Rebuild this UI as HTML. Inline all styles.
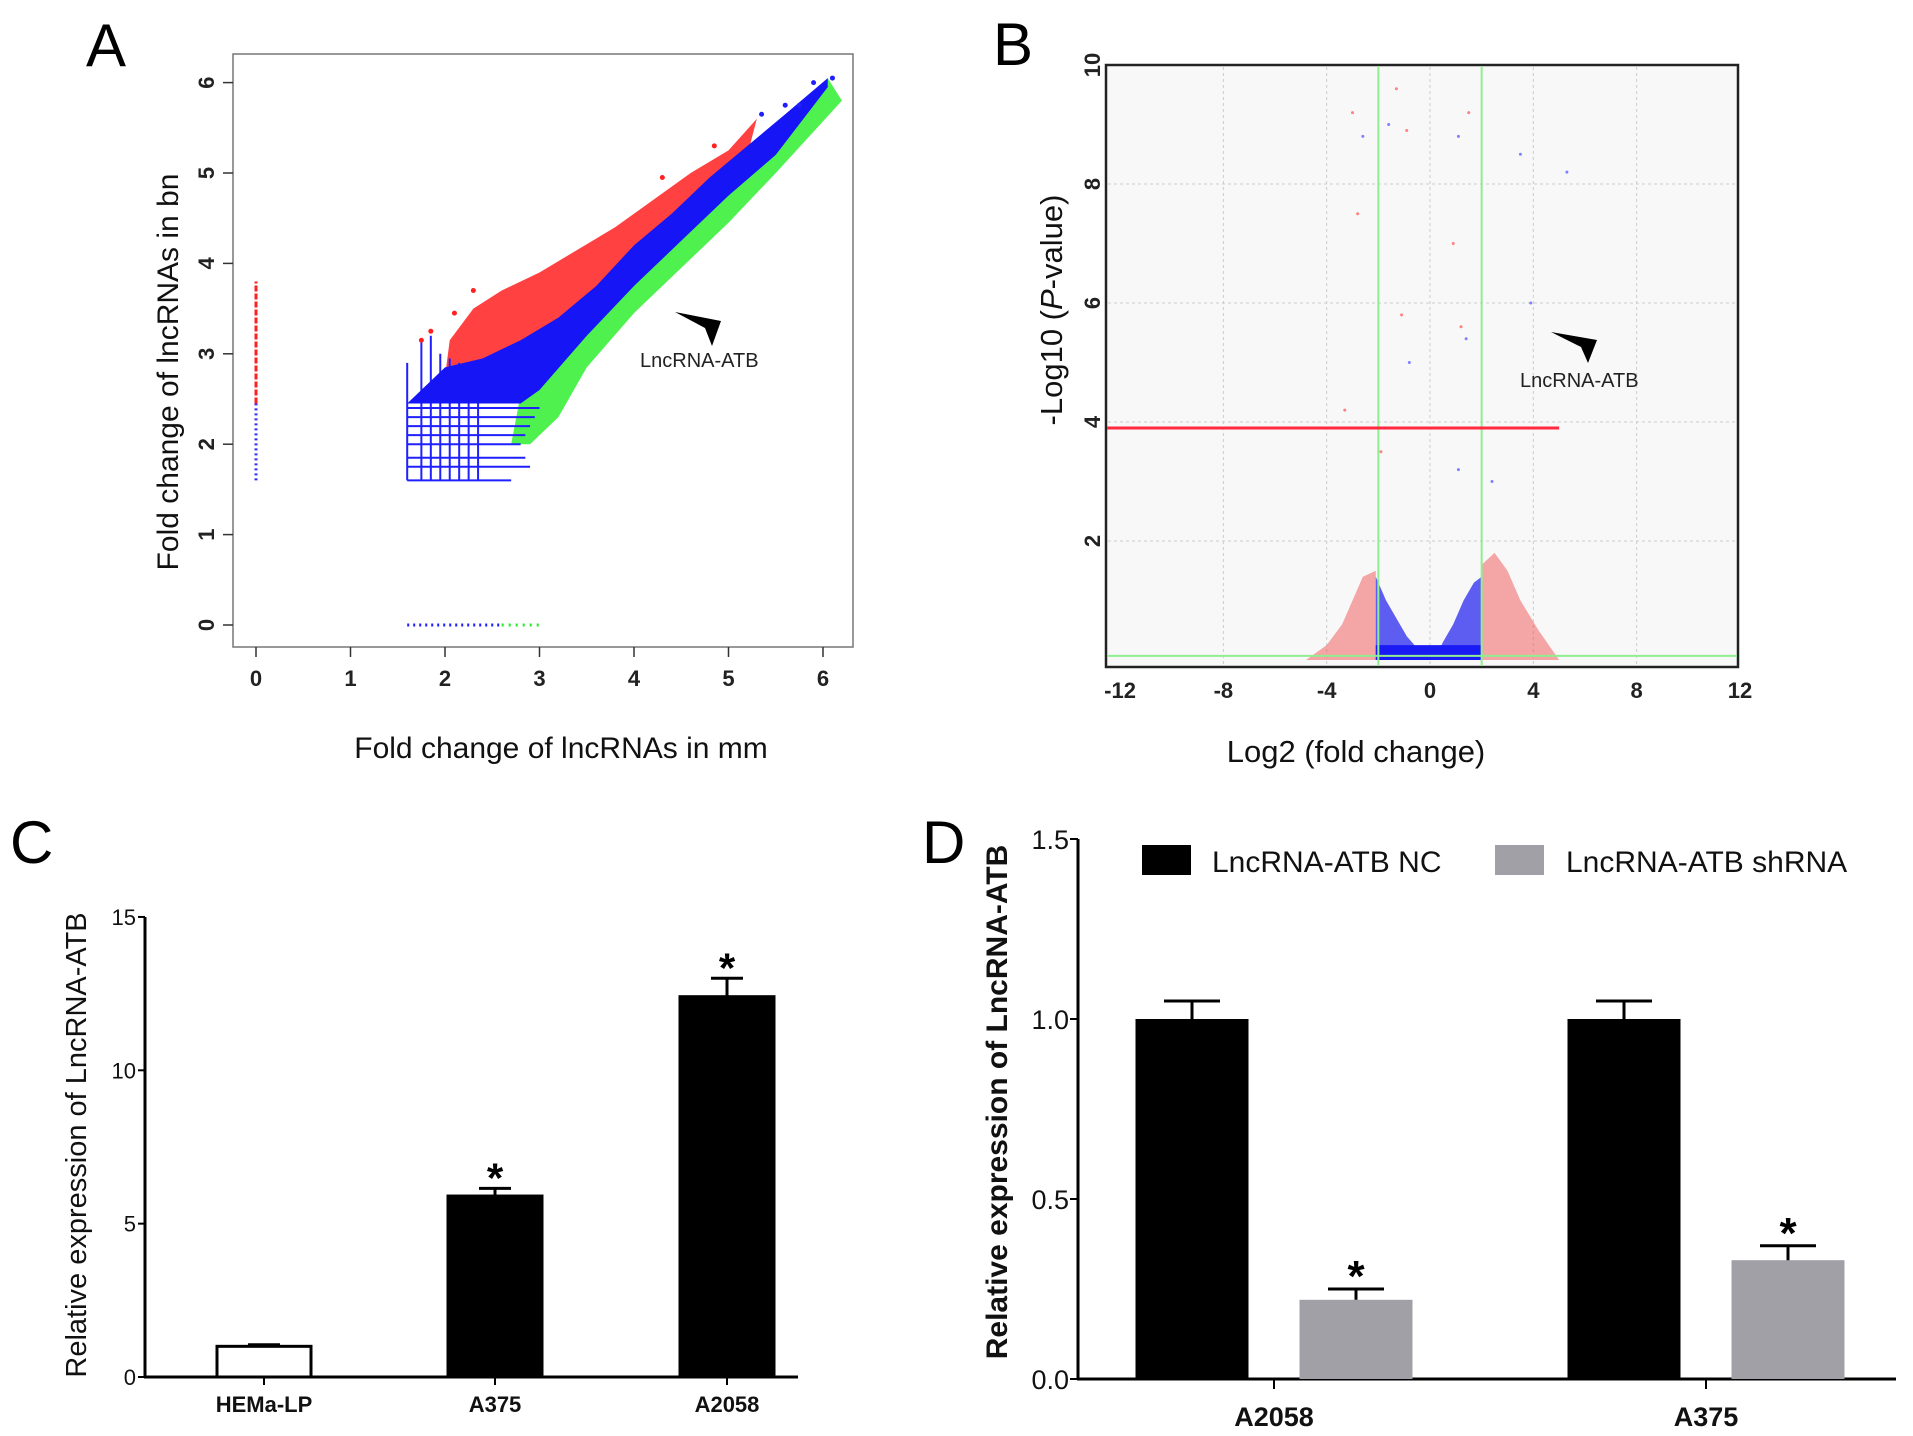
<!DOCTYPE html>
<html><head><meta charset="utf-8"><style>
html,body{margin:0;padding:0;background:#fff;}
svg{display:block;font-family:"Liberation Sans",Arial,sans-serif;}
</style></head><body>
<svg id="fig" width="1913" height="1436" viewBox="0 0 1913 1436">
<g id="pA"></g>
<g id="pB"></g>
<g id="pC"></g>
<g id="pD"></g>
</svg>
<script>
// ---------- Panel A data ----------
const aTicks = [0,1,2,3,4,5,6];
const aRedTopX = [2.05,2.3,2.6,3.0,3.4,3.8,4.2,4.6,5.0,5.3];
const aRedTopY = [3.15,3.5,3.7,3.9,4.15,4.4,4.7,5.0,5.25,5.6];
const aBlueTopX = [1.6,2.0,2.4,2.8,3.2,3.6,4.0,4.4,4.8,5.2,5.6,6.05];
const aBlueTopY = [2.9,2.85,2.95,3.15,3.4,3.75,4.2,4.55,4.95,5.3,5.65,6.05];
const aBlueBotX = [6.05,5.5,5.0,4.5,4.0,3.5,3.0,2.8,1.6];
const aBlueBotY = [5.95,5.2,4.75,4.25,3.75,3.2,2.6,2.45,2.45];
const aGreenBotX = [6.2,5.5,5.0,4.5,4.0,3.5,3.2,2.9,2.7];
const aGreenBotY = [5.8,5.0,4.45,3.95,3.45,2.85,2.3,2.0,2.0];
const aVertLinesX = [1.6,1.75,1.85,1.95,2.05,2.15,2.25,2.35];
const aVertLinesTop = [2.9,3.15,3.2,3.0,2.95,2.9,2.85,2.85];
const aHorizLinesY = [1.6,1.75,1.85,2.0,2.1,2.2,2.3,2.4];
const aHorizLinesEnd = [2.7,2.9,2.85,2.8,2.85,2.9,2.95,3.0];
const aZeroColRedTop = [3.8];
const aPtX = [6.1,5.9,5.75,5.6,5.35,4.85,4.3,2.3,2.1,1.75,1.85];
const aPtY = [6.05,6.0,5.75,5.75,5.65,5.3,4.95,3.7,3.45,3.15,3.25];
// ---------- Panel B data ----------
const bXTicks = [-12,-8,-4,0,4,8,12];
const bYTicks = [2,4,6,8,10];
const bRedLineY = [3.9];
const bRedLineXEnd = [5];
const bFoldThresh = [-2,2];
const bBlueLX = [-2.1,-2.1,-1.7,-1.3,-0.9,-0.4,-0.2];
const bBlueLY = [0,1.4,1.0,0.7,0.4,0.15,0];
const bBlueRX = [0.2,0.5,0.9,1.3,1.7,2.0,2.0];
const bBlueRY = [0,0.3,0.6,1.0,1.3,1.4,0];
const bRedLX = [-4.8,-4,-3.4,-3,-2.6,-2.1,-2.1];
const bRedLY = [0,0.25,0.6,1.0,1.4,1.5,0];
const bRedRX = [2.0,2.0,2.5,3.0,3.5,4.2,5.0];
const bRedRY = [0,1.6,1.8,1.5,1.0,0.5,0];
const bPtX = [-1.3,-1.6,-0.9,-2.6,-3.0,1.1,1.5,3.5,-1.1,-0.8,1.2,1.4,0.9,5.3,-2.8,3.9,-1.9,2.4,-3.3,1.1];
const bPtY = [9.6,9.0,8.9,8.8,9.2,8.8,9.2,8.5,5.8,5.0,5.6,5.4,7.0,8.2,7.5,6.0,3.5,3.0,4.2,3.2];
// ---------- Panel C data ----------
const cCats = ["HEMa-LP","A375","A2058"];
const cVals = [1.0,5.9,12.4];
const cErr = [0.05,0.25,0.6];
const cStar = [false,true,true];
const cTicks = [0,5,10,15];
// ---------- Panel D data ----------
const dCats = ["A2058","A375"];
const dNC = [1.0,1.0];
const dNCErr = [0.05,0.05];
const dSh = [0.22,0.33];
const dShErr = [0.03,0.04];
const dTicks = ["0.0","0.5","1.0","1.5"];
const dTickVals = [0,0.5,1.0,1.5];

const NS="http://www.w3.org/2000/svg";
function mk(parent,tag,attrs,text){const e=document.createElementNS(NS,tag);for(const k in attrs)e.setAttribute(k,attrs[k]);if(text!==undefined)e.textContent=text;parent.appendChild(e);return e;}

// ====== Panel A ======
(function(){
const g=document.getElementById('pA');
const x=v=>256+v*94.5, y=v=>625-v*90.4;
let t=mk(g,'text',{x:86,y:66,'font-size':60});t.textContent='A';

let r=mk(g,'rect',{x:233,y:54,width:620,height:593,fill:'#fff',stroke:'#777','stroke-width':1.5});

let pts=aRedTopX.map((v,i)=>x(v)+','+y(aRedTopY[i]));
for(let i=aBlueTopX.length-1;i>=0;i--)if(aBlueTopX[i]<=5.4&&aBlueTopX[i]>=2.0)pts.push(x(aBlueTopX[i])+','+y(aBlueTopY[i]-0.1));
let p=mk(g,'polygon',{points:pts.join(' '),fill:'#ff2020',opacity:0.85});

pts=aGreenBotX.map((v,i)=>x(v)+','+y(aGreenBotY[i]));
for(let i=aBlueBotX.length-2;i>=0;i--)pts.push(x(aBlueBotX[i])+','+y(aBlueBotY[i]+0.1));
p=mk(g,'polygon',{points:pts.join(' '),fill:'#22ee22',opacity:0.8});

aVertLinesX.forEach((v,i)=>{let l=mk(g,'line',{x1:x(v),x2:x(v),y1:y(1.6),y2:y(aVertLinesTop[i]),stroke:'#2020ff','stroke-width':2});
});
aHorizLinesY.forEach((v,i)=>{let l=mk(g,'line',{x1:x(1.6),x2:x(aHorizLinesEnd[i]),y1:y(v),y2:y(v),stroke:'#2020ff','stroke-width':2});
});
pts=aBlueTopX.map((v,i)=>x(v)+','+y(aBlueTopY[i]));
pts.push(...aBlueBotX.map((v,i)=>x(v)+','+y(aBlueBotY[i])));
p=mk(g,'polygon',{points:pts.filter((s,i)=>i!==0).join(' '),fill:'#1515f5'});

let l=mk(g,'line',{x1:x(0),x2:x(0),y1:y(1.6),y2:y(2.45),stroke:'#3030ff','stroke-width':3,'stroke-dasharray':'2 3'});

l=mk(g,'line',{x1:x(0),x2:x(0),y1:y(2.45),y2:y(aZeroColRedTop[0]),stroke:'#ff2020','stroke-width':3,'stroke-dasharray':'6 2'});

l=mk(g,'line',{x1:x(1.6),x2:x(2.6),y1:y(0),y2:y(0),stroke:'#2020ff','stroke-width':3,'stroke-dasharray':'2 4'});

l=mk(g,'line',{x1:x(2.6),x2:x(3.0),y1:y(0),y2:y(0),stroke:'#22ee22','stroke-width':3,'stroke-dasharray':'2 5'});

aPtX.forEach((v,i)=>{let c=mk(g,'circle',{cx:x(v),cy:y(aPtY[i]),r:2.5,fill:i<5?'#2020ff':'#ff2020'});
});
aTicks.forEach(v=>{
 let tk=mk(g,'line',{x1:x(v),x2:x(v),y1:647,y2:657,stroke:'#333','stroke-width':1.5});
 
 let tl=mk(g,'text',{x:x(v),y:686,'font-size':22,'font-weight':'bold','text-anchor':'middle',fill:'#222'},String(v));
 
 tk=mk(g,'line',{x1:223,x2:233,y1:y(v),y2:y(v),stroke:'#333','stroke-width':1.5});
 
 tl=mk(g,'text',{x:0,y:0,'font-size':22,'font-weight':'bold','text-anchor':'middle',fill:'#222',transform:`translate(214,${y(v)}) rotate(-90)`},String(v));
 
});
t=mk(g,'text',{x:561,y:758,'font-size':30,'text-anchor':'middle',fill:'#111'},'Fold change of lncRNAs in mm');

t=mk(g,'text',{x:0,y:0,'font-size':30,'text-anchor':'middle',fill:'#111',transform:'translate(178,372) rotate(-90)'},'Fold change of lncRNAs in bn');

p=mk(g,'polygon',{points:'675,312 721,321 712,346 705,328',fill:'#000'});

t=mk(g,'text',{x:640,y:367,'font-size':20,fill:'#222'},'LncRNA-ATB');

})();

// ====== Panel B ======
(function(){
const g=document.getElementById('pB');
const x=v=>1430+v*25.83, y=v=>660-v*59.5;
let t=mk(g,'text',{x:993,y:65,'font-size':60},'B');

let r=mk(g,'rect',{x:1106,y:65,width:632,height:602,fill:'#f8f8f8',stroke:'#222','stroke-width':2.5});

bXTicks.forEach(v=>{ if(v>-12&&v<12){let l=mk(g,'line',{x1:x(v),x2:x(v),y1:67,y2:665,stroke:'#ccc','stroke-width':1,'stroke-dasharray':'3 3'});
 }});
bYTicks.forEach(v=>{ if(v<10){let l=mk(g,'line',{x1:1108,x2:1736,y1:y(v),y2:y(v),stroke:'#ccc','stroke-width':1,'stroke-dasharray':'3 3'});
 }});
function poly(X,Y,fill,op,name){let p=mk(g,'polygon',{points:X.map((v,i)=>x(v)+','+y(Y[i])).join(' '),fill:fill,opacity:op});
 }
poly(bRedLX,bRedLY,'#f04040',0.45,'red-points-left');
poly(bRedRX,bRedRY,'#f04040',0.45,'red-points-right');
poly(bBlueLX,bBlueLY,'#2a2af0',0.75,'blue-points-left');
poly(bBlueRX,bBlueRY,'#2a2af0',0.75,'blue-points-right');
let b=mk(g,'rect',{x:x(-2.1),y:y(0.25),width:x(2)-x(-2.1),height:y(0)-y(0.25),fill:'#1a1af5'});

bPtX.forEach((v,i)=>{let c=mk(g,'circle',{cx:x(v),cy:y(bPtY[i]),r:1.5,fill:i%2?'#8080ff':'#ff8080'});
 });
bFoldThresh.forEach(v=>{let l=mk(g,'line',{x1:x(v),x2:x(v),y1:66,y2:666,stroke:'#90ee90','stroke-width':2});
 });
let l=mk(g,'line',{x1:1107,x2:1737,y1:y(0.07),y2:y(0.07),stroke:'#90ee90','stroke-width':2});

l=mk(g,'line',{x1:1107,x2:x(bRedLineXEnd[0]),y1:y(bRedLineY[0]),y2:y(bRedLineY[0]),stroke:'#ff2a40','stroke-width':3});

bXTicks.forEach(v=>{let tl=mk(g,'text',{x:x(v),y:698,'font-size':22,'font-weight':'bold','text-anchor':'middle',fill:'#222'},String(v));
 });
bYTicks.forEach(v=>{let tl=mk(g,'text',{x:0,y:0,'font-size':22,'font-weight':'bold','text-anchor':'middle',fill:'#222',transform:`translate(1100,${y(v)}) rotate(-90)`},String(v));
 });
t=mk(g,'text',{x:1356,y:762,'font-size':31,'text-anchor':'middle',fill:'#111'},'Log2 (fold change)');

t=mk(g,'text',{x:0,y:0,'font-size':31,'text-anchor':'middle',fill:'#111',transform:'translate(1062,310) rotate(-90)'});

t.appendChild(document.createTextNode('-Log10 ('));
mk(t,'tspan',{'font-style':'italic'},'P');
t.appendChild(document.createTextNode('-value)'));
let p=mk(g,'polygon',{points:'1551,332 1597,340 1588,363 1581,347',fill:'#000'});

t=mk(g,'text',{x:1520,y:387,'font-size':20,fill:'#222'},'LncRNA-ATB');

})();

// ====== Panel C ======
(function(){
const g=document.getElementById('pC');
const y=v=>1377-v*30.67;
const cx=[264,495,727], bw=94;
let t=mk(g,'text',{x:10,y:863,'font-size':60},'C');

let l=mk(g,'line',{x1:145,x2:145,y1:y(15),y2:1378,stroke:'#000','stroke-width':3});

l=mk(g,'line',{x1:144,x2:798,y1:1377,y2:1377,stroke:'#000','stroke-width':3});

cTicks.forEach(v=>{let k=mk(g,'line',{x1:138,x2:145,y1:y(v),y2:y(v),stroke:'#000','stroke-width':2});
 
 let tl=mk(g,'text',{x:136,y:y(v)+8,'font-size':22,'text-anchor':'end',fill:'#111'},String(v));
 });
cCats.forEach((c,i)=>{
 let b=mk(g,'rect',{x:cx[i]-bw/2,y:y(cVals[i]),width:bw,height:y(0)-y(cVals[i]),fill:i===0?'#fff':'#000',stroke:'#000','stroke-width':3});
 
 let e=mk(g,'path',{d:`M${cx[i]},${y(cVals[i])} V${y(cVals[i]+cErr[i])} M${cx[i]-16},${y(cVals[i]+cErr[i])} H${cx[i]+16}`,stroke:'#000','stroke-width':3,fill:'none'});
 
 if(cStar[i]){let s=mk(g,'text',{x:cx[i],y:y(cVals[i]+cErr[i])+4,'font-size':42,'font-weight':'bold','text-anchor':'middle'},'*');
  }
 let k=mk(g,'line',{x1:cx[i],x2:cx[i],y1:1377,y2:1385,stroke:'#000','stroke-width':2});
 
 let tl=mk(g,'text',{x:cx[i],y:1412,'font-size':22,'font-weight':'bold','text-anchor':'middle',fill:'#111'},c);
 
});
t=mk(g,'text',{x:0,y:0,'font-size':29,'text-anchor':'middle',fill:'#111',transform:'translate(86,1145) rotate(-90)'},'Relative expression of LncRNA-ATB');

})();

// ====== Panel D ======
(function(){
const g=document.getElementById('pD');
const y=v=>1379-v*360;
const gx=[1274,1706], off=82, bw=113;
let t=mk(g,'text',{x:922,y:863,'font-size':60},'D');

let l=mk(g,'line',{x1:1078,x2:1078,y1:y(1.5),y2:1380,stroke:'#000','stroke-width':3});

l=mk(g,'line',{x1:1077,x2:1896,y1:1379,y2:1379,stroke:'#000','stroke-width':3});

dTickVals.forEach((v,i)=>{let k=mk(g,'line',{x1:1070,x2:1078,y1:y(v),y2:y(v),stroke:'#000','stroke-width':2});
 
 let tl=mk(g,'text',{x:1069,y:y(v)+10,'font-size':27,'text-anchor':'end',fill:'#111'},dTicks[i]);
 });
function bar(cx,v,err,fill,name,star){
 let b=mk(g,'rect',{x:cx-bw/2,y:y(v),width:bw,height:y(0)-y(v),fill:fill});
 
 let e=mk(g,'path',{d:`M${cx},${y(v)} V${y(v+err)} M${cx-28},${y(v+err)} H${cx+28}`,stroke:'#000','stroke-width':3,fill:'none'});
 
 if(star){let s=mk(g,'text',{x:cx,y:y(v+err)+2,'font-size':44,'font-weight':'bold','text-anchor':'middle'},'*');
  }
}
dCats.forEach((c,i)=>{
 bar(gx[i]-off,dNC[i],dNCErr[i],'#000','bar-nc-'+c.toLowerCase(),false);
 bar(gx[i]+off,dSh[i],dShErr[i],'#a0a0a6','bar-shrna-'+c.toLowerCase(),true);
 let k=mk(g,'line',{x1:gx[i],x2:gx[i],y1:1379,y2:1389,stroke:'#000','stroke-width':2});
 
 let tl=mk(g,'text',{x:gx[i],y:1426,'font-size':27,'font-weight':'bold','text-anchor':'middle',fill:'#111'},c);
 
});
let lg=mk(g,'rect',{x:1142,y:845,width:49,height:30,fill:'#000'});

t=mk(g,'text',{x:1212,y:872,'font-size':30,fill:'#111'},'LncRNA-ATB NC');

lg=mk(g,'rect',{x:1495,y:845,width:49,height:30,fill:'#a0a0a6'});

t=mk(g,'text',{x:1566,y:872,'font-size':30,fill:'#111'},'LncRNA-ATB shRNA');

t=mk(g,'text',{x:0,y:0,'font-size':30,'font-weight':'bold','text-anchor':'middle',fill:'#111',transform:'translate(1007,1102) rotate(-90)'},'Relative expression of LncRNA-ATB');

})();
</script>
</body></html>
